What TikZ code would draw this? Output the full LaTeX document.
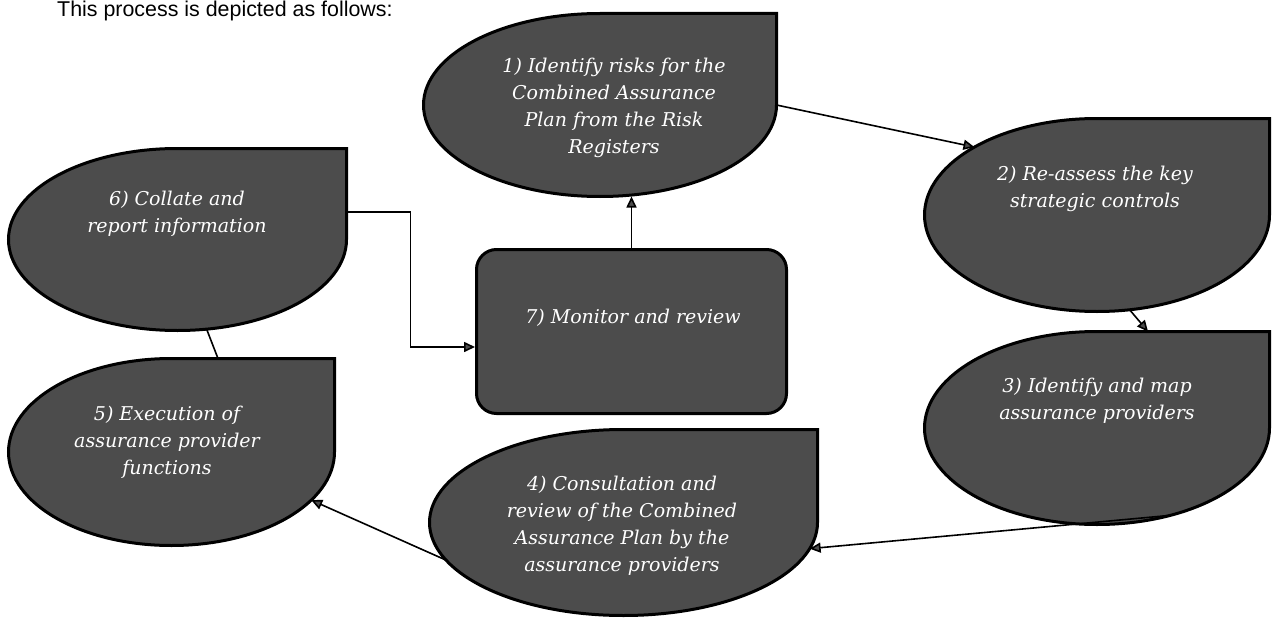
\documentclass[tikz,border=0pt]{standalone}
\usepackage{fontspec}
\setmainfont{DejaVu Serif}
\newfontfamily\headfont{Liberation Sans}
\usetikzlibrary{shapes.geometric,arrows.meta,calc}
\definecolor{dropgray}{HTML}{4C4C4C}
\tikzset{
  x=1pt,y=1pt,
  dropfill/.style={fill=dropgray, draw=black, line width=3pt},
  anchornode/.style={ellipse, inner sep=0pt, outer sep=0pt},
  boxfill/.style={rectangle, rounded corners=20pt, fill=dropgray, draw=black, line width=3pt, inner sep=0pt},
  lbl/.style={text=white, font=\fontsize{19}{27}\selectfont\itshape, align=center, inner sep=0pt},
  conn/.style={draw=black, line width=1.6pt, -{Triangle[length=11pt,width=10pt,fill=dropgray]}},
  link/.style={draw=black, line width=1.6pt},
}
\newcommand\tdrop[5]{%
  \path[dropfill] (#2+#4,#3) -- (#2+#4,#3+#5) -- (#2,#3+#5)
    arc[start angle=90,end angle=360,x radius=#4,y radius=#5] -- cycle;
  \node[anchornode, minimum width={2*#4*1pt}, minimum height={2*#5*1pt}] (#1) at (#2,#3) {};
}
\begin{document}
\begin{tikzpicture}
\useasboundingbox (0,0) rectangle (1272,-618);
\node[anchor=base west, inner sep=0pt, font=\headfont\fontsize{21.4}{26}\selectfont] (head) at (57,-16.5) {This process is depicted as follows:};

\tdrop{s1}{600}{-105}{176.5}{91.5}
\tdrop{s2}{1097}{-215}{172.5}{96.5}
\tdrop{s3}{1097}{-428}{172.5}{96.5}
\tdrop{s4}{623.5}{-522.5}{194}{93}
\tdrop{s5}{171.5}{-452}{163}{93.5}
\tdrop{s6}{177.5}{-239.5}{169}{91}
\node[boxfill, minimum width=310pt, minimum height=164pt] (s7) at (631.5,-331.5) {};

\node[lbl] (t1) at (614,-107.5) {1) Identify risks for the\\Combined Assurance\\Plan from the Risk\\Registers};
\node[lbl] (t2) at (1095,-188.5) {2) Re-assess the key\\strategic controls};
\node[lbl] (t3) at (1097,-400.5) {3) Identify and map\\assurance providers};
\node[lbl] (t4) at (622,-526) {4) Consultation and\\review of the Combined\\Assurance Plan by the\\assurance providers};
\node[lbl] (t5) at (167,-442) {5) Execution of\\assurance provider\\functions};
\node[lbl] (t6) at (177,-214) {6) Collate and\\report information};
\node[lbl] (t7) at (633,-318) {7) Monitor and review};

\draw[conn] (s1.east) -- (s2.151);
\draw[conn] (s2.289) -- ($(s3.north)+(51,0)$);
\draw[conn] (s3.310) -- (s4.-8);
\draw[conn] (s4.192) -- (s5.341);
\draw[link] ($(s5.north)+(46.5,0)$) -- (s6.288);
\draw[conn] ($(s6.east)+(0,27.5)$) -- ++(64,0) |- ($(s7.west)+(0,-15.5)$);
\draw[conn] (s7.north) -- (s7.north |- s1.south);
\end{tikzpicture}
\end{document}
